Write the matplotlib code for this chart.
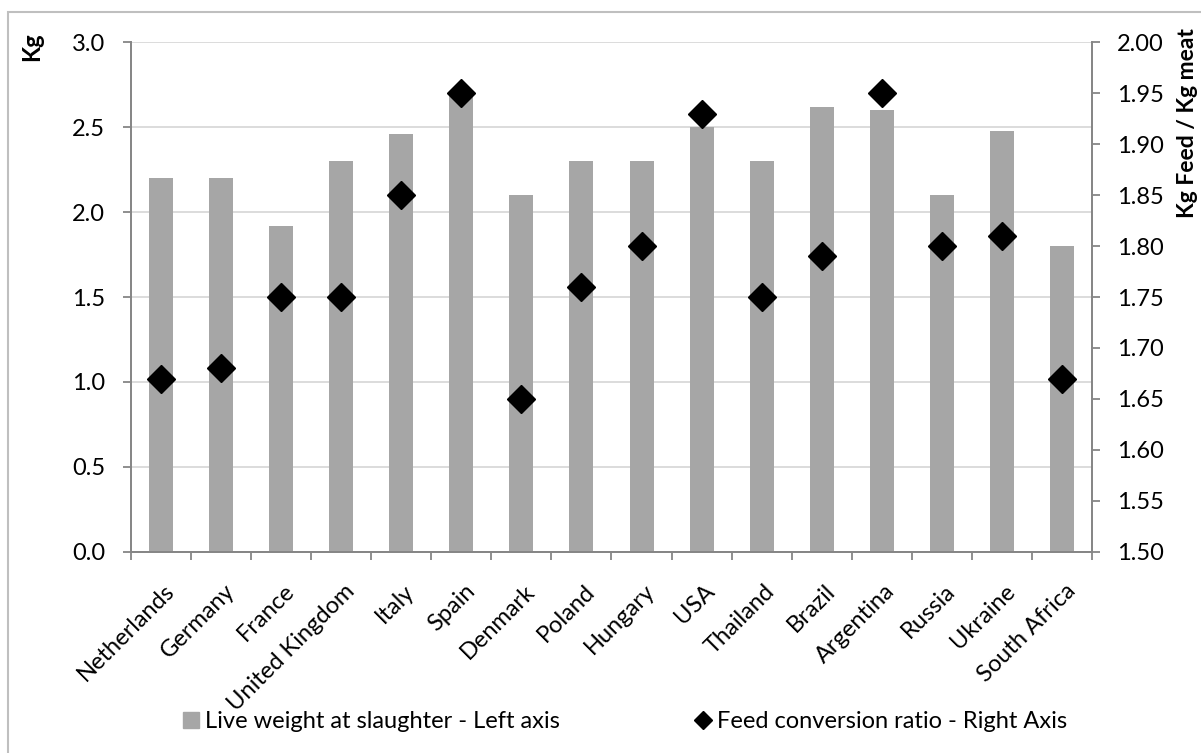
import matplotlib.pyplot as plt
from matplotlib.lines import Line2D
from matplotlib.patches import Rectangle
from matplotlib.transforms import ScaledTranslation

plt.rcParams['font.family'] = ['Lato', 'DejaVu Sans']

countries = ["Netherlands", "Germany", "France", "United Kingdom", "Italy", "Spain",
             "Denmark", "Poland", "Hungary", "USA", "Thailand", "Brazil",
             "Argentina", "Russia", "Ukraine", "South Africa"]
live_weight = [2.2, 2.2, 1.92, 2.3, 2.46, 2.7, 2.1, 2.3, 2.3, 2.5, 2.3, 2.62,
               2.6, 2.1, 2.48, 1.8]
feed_ratio = [1.67, 1.68, 1.75, 1.75, 1.85, 1.95, 1.65, 1.76, 1.80, 1.93, 1.75,
              1.79, 1.95, 1.80, 1.81, 1.67]

fig = plt.figure(figsize=(12.01, 7.53), dpi=100)
ax = fig.add_axes([0.1091, 0.2673, 0.8001, 0.6765])
ax2 = ax.twinx()

x = list(range(len(countries)))
ax.bar(x, live_weight, width=0.4, color="#a6a6a6", zorder=2)
ax2.plot(x, feed_ratio, linestyle="none", marker="D", markersize=14,
         color="black", zorder=3)

ax.set_xlim(-0.5, len(countries) - 0.5)
ax.set_ylim(0, 3.0)
ax.set_yticks([0, 0.5, 1.0, 1.5, 2.0, 2.5, 3.0])
ax.set_yticklabels([f"{v:.1f}" for v in ax.get_yticks()])
ax2.set_ylim(1.5, 2.0)
ticks2 = [1.5 + 0.05 * i for i in range(11)]
ax2.set_yticks(ticks2)
ax2.set_yticklabels([f"{v:.2f}" for v in ticks2])

ax.grid(axis="y", color="#d9d9d9", linewidth=1.3, zorder=0)
ax.set_axisbelow(True)

# ticks sit between categories, labels are placed as rotated texts
ax.set_xticks([i - 0.5 for i in range(len(countries) + 1)])
ax.set_xticklabels([])
ax.tick_params(axis="x", length=6, color="#868686", width=1.3)
shift = ScaledTranslation(0.10, -0.363, fig.dpi_scale_trans)
for i, name in enumerate(countries):
    ax.text(i, 0, name, transform=ax.get_xaxis_transform() + shift,
            rotation=45, ha="right", va="center", rotation_mode="anchor",
            fontsize=17)

ax.tick_params(axis="y", length=6, color="#868686", width=1.3, labelsize=17, pad=12.5)
ax2.tick_params(axis="y", length=6, color="#868686", width=1.3, labelsize=17, pad=12)

for a in (ax, ax2):
    for s in a.spines.values():
        s.set_color("#868686")
        s.set_linewidth(1.3)
    a.spines["top"].set_visible(False)

fig.text(0.0266, 0.957, "Kg", rotation=90, ha="center", va="top",
         fontsize=17, fontweight="bold")
fig.text(0.989, 0.963, "Kg Feed / Kg meat", rotation=90, ha="center", va="top",
         fontsize=16.5, fontweight="bold")

handles = [Line2D([], [], linestyle="none", marker="s", markersize=12,
                  color="#a6a6a6"),
           Line2D([], [], linestyle="none", marker="D", markersize=9,
                  color="black")]
labels = ["Live weight at slaughter - Left axis",
          "Feed conversion ratio - Right Axis"]
fig.legend(handles, labels, loc="center", bbox_to_anchor=(0.5196, 0.0412), ncol=2,
           frameon=False, fontsize=17, handlelength=0.9, handletextpad=0.15,
           columnspacing=5.6)

fig.patches.append(Rectangle((8 / 1201, -0.1), 1.2, 0.1 + (753 - 12) / 753,
                             transform=fig.transFigure, fill=False,
                             edgecolor="#bfbfbf", linewidth=1.5))

fig.savefig("out.png", dpi=100)
